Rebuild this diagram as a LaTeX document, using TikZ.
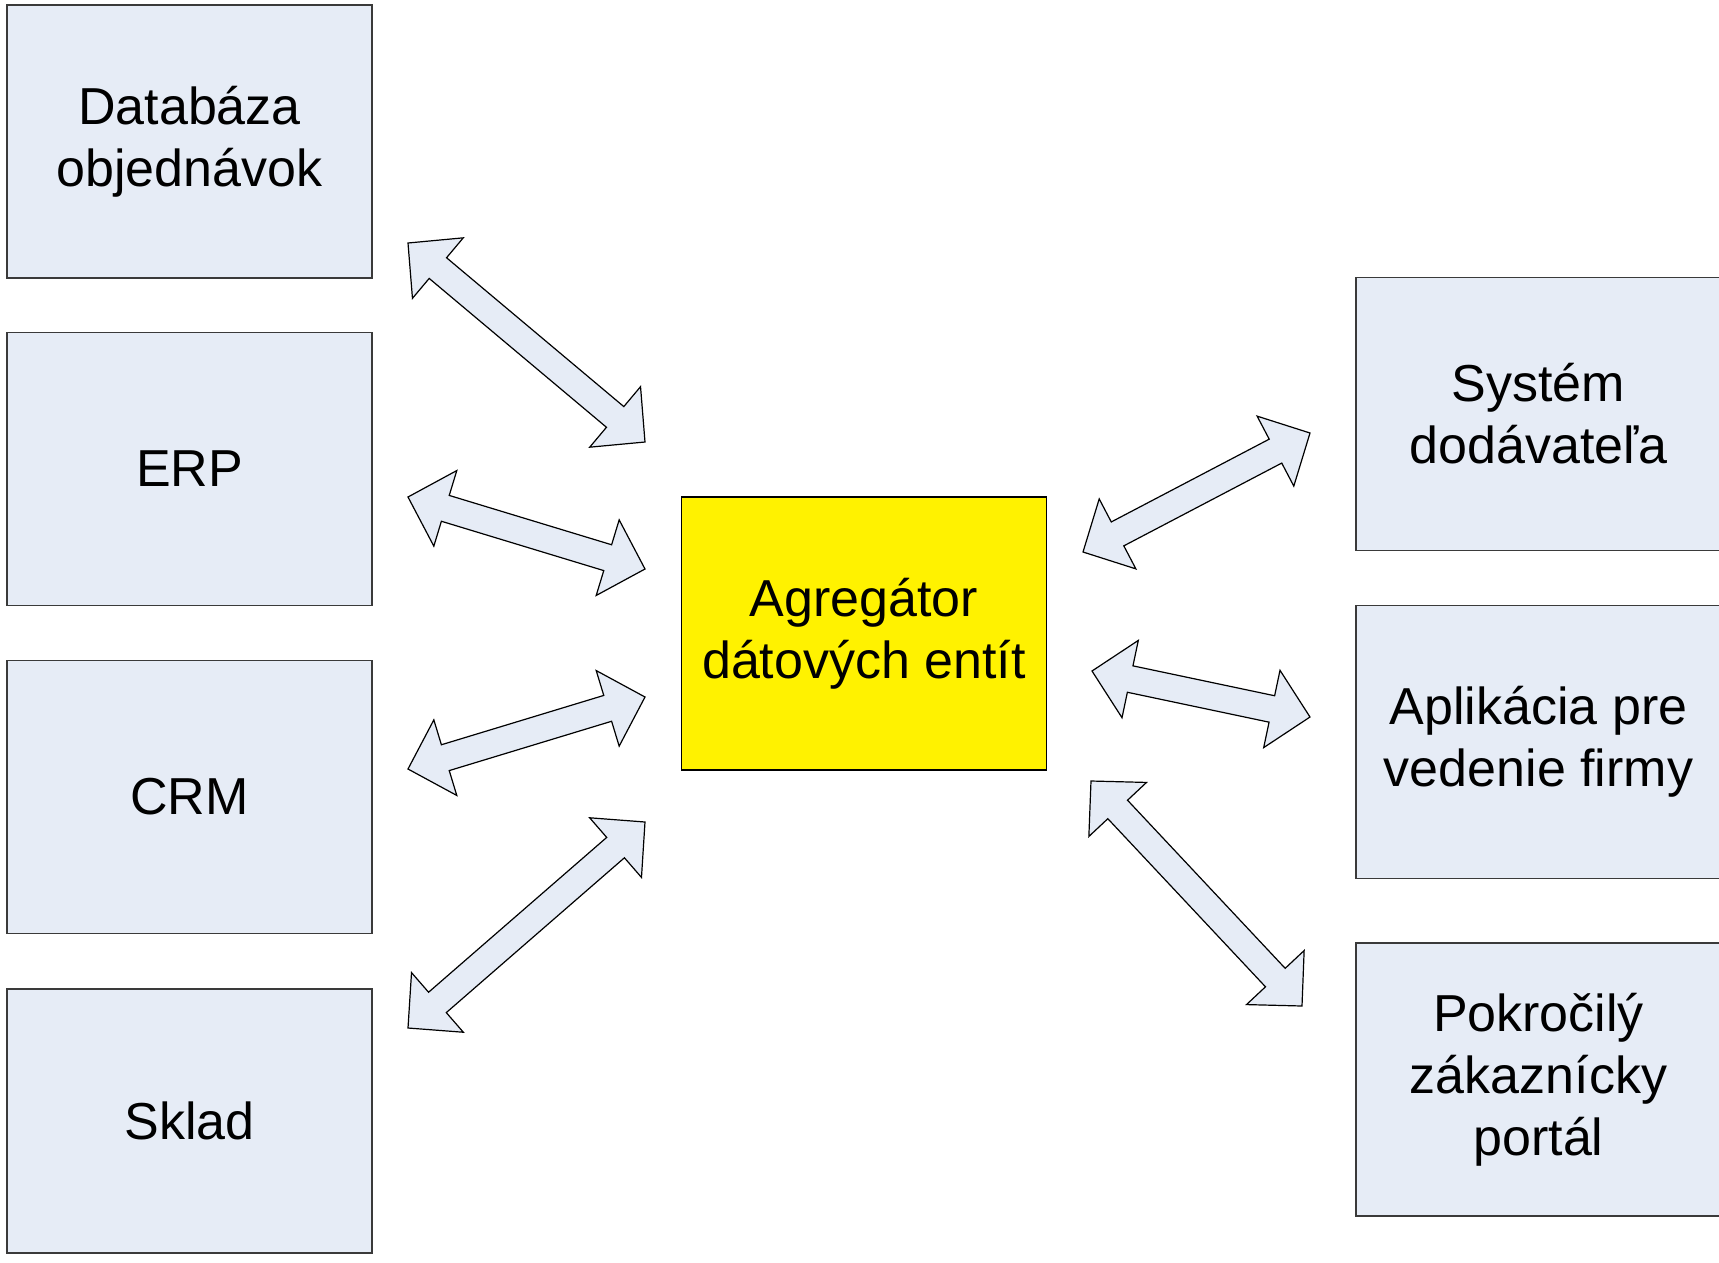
\documentclass[tikz,border=0pt]{standalone}
\usepackage{fontspec}
\setmainfont{Liberation Sans}
\usetikzlibrary{calc}

\definecolor{boxfill}{HTML}{E6ECF6}
\definecolor{boxline}{HTML}{3A3A3A}

% geometry of the double block arrows
\newcommand\arrHeadLen{39pt}
\newcommand\arrHeadHalf{39.5pt}
\newcommand\arrShaftHalf{13.5pt}

% double-headed block arrow between two named coordinates
\newcommand\twoway[2]{%
  \draw[flowarrow] (#1)
    -- ($(#1)!\arrHeadLen!(#2)!\arrHeadHalf!90:(#2)$)
    -- ($(#1)!\arrHeadLen!(#2)!\arrShaftHalf!90:(#2)$)
    -- ($(#2)!\arrHeadLen!(#1)!\arrShaftHalf!-90:(#1)$)
    -- ($(#2)!\arrHeadLen!(#1)!\arrHeadHalf!-90:(#1)$)
    -- (#2)
    -- ($(#2)!\arrHeadLen!(#1)!\arrHeadHalf!90:(#1)$)
    -- ($(#2)!\arrHeadLen!(#1)!\arrShaftHalf!90:(#1)$)
    -- ($(#1)!\arrHeadLen!(#2)!\arrShaftHalf!-90:(#2)$)
    -- ($(#1)!\arrHeadLen!(#2)!\arrHeadHalf!-90:(#2)$)
    -- cycle;}

\tikzset{
  sysbox/.style={draw=boxline, line width=1.3pt, fill=boxfill,
    minimum width=365pt, minimum height=273pt, inner sep=0pt,
    align=center, font=\fontsize{52}{62}\selectfont},
  hubbox/.style={sysbox, fill=yellow, draw=black},
  flowarrow/.style={draw=black, line width=1.2pt, fill=boxfill, line join=miter},
}

\begin{document}
\begin{tikzpicture}[x=1pt, y=-1pt]
  \useasboundingbox (0,0) rectangle (1719,1262);
  \fill[white] (0,0) rectangle (1719,1262);

  % source systems on the left
  \node[sysbox] (orders) at (189.5,141.5) {Databáza\\objednávok};
  \node[sysbox] (erp)    at (189.5,469)   {ERP};
  \node[sysbox] (crm)    at (189.5,797)   {CRM};
  \node[sysbox, minimum height=264pt] (stock) at (189.5,1121) {Sklad};

  % central aggregator
  \node[hubbox] (hub) at (864,633.5) {Agregátor\\dátových entít};

  % consumers on the right
  \node[sysbox] (supplier) at (1538.5,414)  {Systém\\dodávateľa};
  \node[sysbox] (mgmt)     at (1538.5,742)  {Aplikácia pre\\vedenie firmy};
  \node[sysbox] (portal)   at (1538.5,1079.5) {Pokročilý\\zákaznícky\\portál};

  % arrow end points
  \coordinate (a1s) at (408,243);   \coordinate (a1e) at (645,442);
  \coordinate (a2s) at (408,497);   \coordinate (a2e) at (645,569);
  \coordinate (a3s) at (408,769);   \coordinate (a3e) at (645,697);
  \coordinate (a4s) at (408,1028);  \coordinate (a4e) at (645,822);
  \coordinate (a5s) at (1083,552);  \coordinate (a5e) at (1310,433);
  \coordinate (a6s) at (1092,671);  \coordinate (a6e) at (1310,717);
  \coordinate (a7s) at (1091,781);  \coordinate (a7e) at (1302,1006);

  \twoway{a1s}{a1e}
  \twoway{a2s}{a2e}
  \twoway{a3s}{a3e}
  \twoway{a4s}{a4e}
  \twoway{a5s}{a5e}
  \twoway{a6s}{a6e}
  \twoway{a7s}{a7e}
\end{tikzpicture}
\end{document}
